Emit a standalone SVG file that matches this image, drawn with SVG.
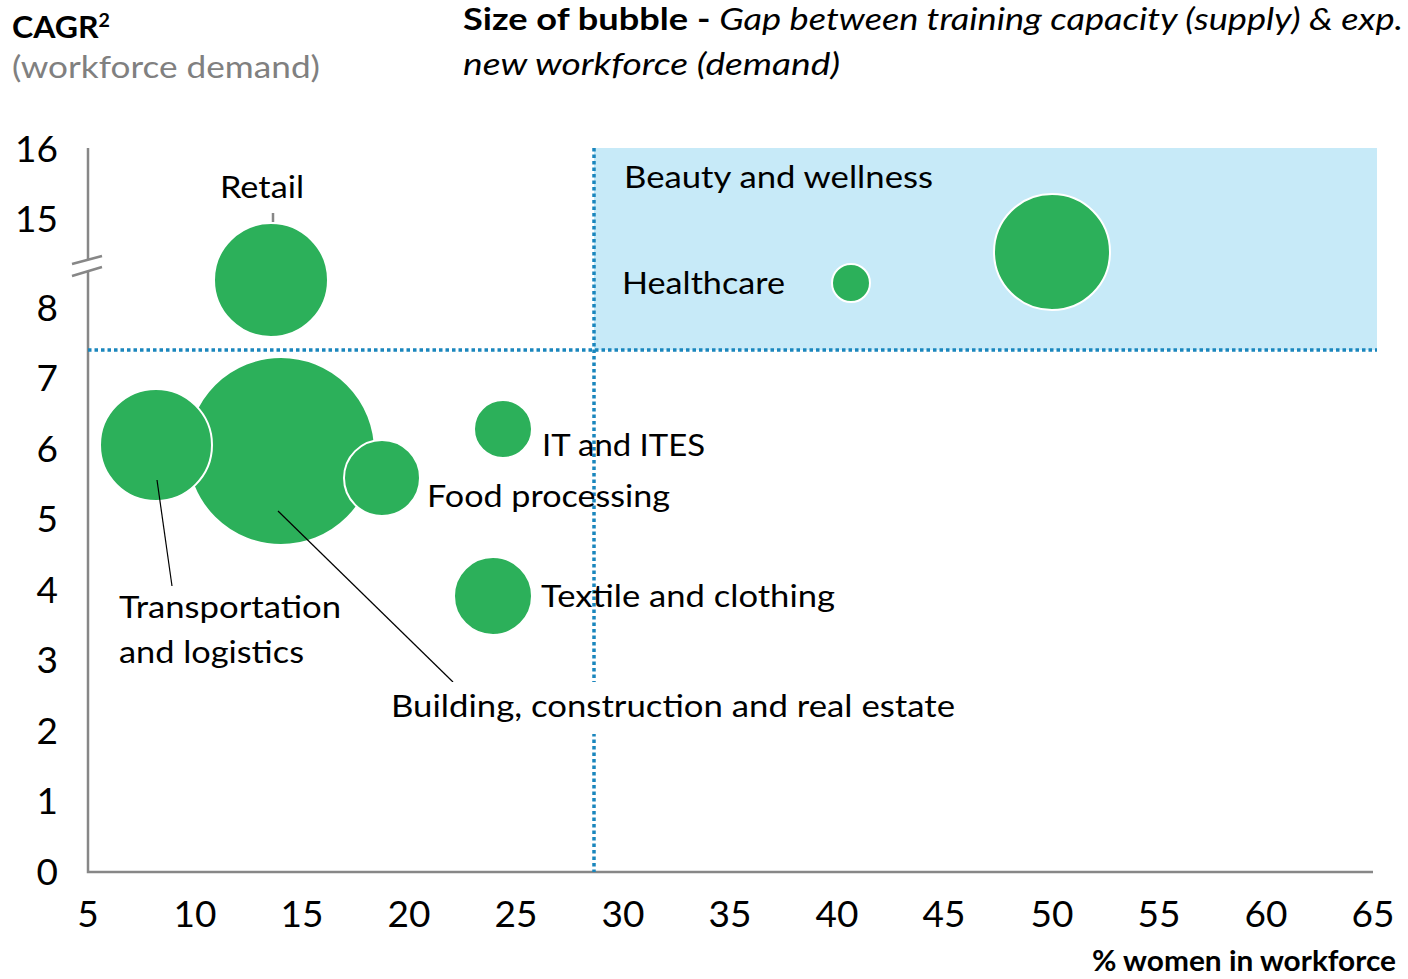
<svg xmlns="http://www.w3.org/2000/svg" width="1408" height="979" viewBox="0 0 1408 979">
<style>
text{font-family:Lato,"Open Sans","Liberation Sans",sans-serif;fill:#000}
.t{font-size:31px}
.ax{font-size:37px}
.yl{text-anchor:end}
.xl{text-anchor:middle}
.b{fill:#2cb05a;stroke:#fff;stroke-width:2}
.dot{stroke:#1a86bd;stroke-width:3.5;stroke-dasharray:3.5 3;fill:none}
.axis{stroke:#878787;stroke-width:2.5;fill:none}
.lead{stroke:#000;stroke-width:1.2;fill:none}
</style>
<rect width="1408" height="979" fill="#fff"/>
<g id="titles">
<text x="12" y="38" font-size="31" font-weight="bold" textLength="98" lengthAdjust="spacingAndGlyphs">CAGR<tspan font-size="19" dy="-11">2</tspan></text>
<text x="12" y="78" font-size="31" style="fill:#808080" textLength="308" lengthAdjust="spacingAndGlyphs">(workforce demand)</text>
<text x="463" y="30" font-size="31" textLength="940" lengthAdjust="spacingAndGlyphs"><tspan font-weight="bold">Size of bubble - </tspan><tspan font-style="italic">Gap between training capacity (supply) &amp; exp.</tspan></text>
<text x="463" y="75" font-size="31" font-style="italic" textLength="377" lengthAdjust="spacingAndGlyphs">new workforce (demand)</text>
</g>
<g id="zone">
<rect x="594" y="148" width="783" height="202" fill="#c7eaf8"/>
</g>
<g id="axes">
<path class="axis" d="M88 148V260M88 272V872H1373"/>
<path class="axis" d="M72 264L102 256M72 276L102 267" stroke-width="2"/>
<g class="ax yl">
<text x="58" y="162">16</text>
<text x="58" y="232">15</text>
<text x="58" y="321">8</text>
<text x="58" y="391">7</text>
<text x="58" y="462">6</text>
<text x="58" y="532">5</text>
<text x="58" y="603">4</text>
<text x="58" y="673">3</text>
<text x="58" y="744">2</text>
<text x="58" y="814">1</text>
<text x="58" y="885">0</text>
</g>
<g class="ax xl">
<text x="88" y="927">5</text>
<text x="195" y="927">10</text>
<text x="302" y="927">15</text>
<text x="409" y="927">20</text>
<text x="516" y="927">25</text>
<text x="623" y="927">30</text>
<text x="730" y="927">35</text>
<text x="837" y="927">40</text>
<text x="944" y="927">45</text>
<text x="1052" y="927">50</text>
<text x="1159" y="927">55</text>
<text x="1266" y="927">60</text>
<text x="1373" y="927">65</text>
</g>
<text x="1092" y="971" font-size="29" font-weight="bold" textLength="304" lengthAdjust="spacingAndGlyphs">% women in workforce</text>
</g>
<g id="thresholds">
<path class="dot" d="M88 350H1377"/>
<path class="dot" d="M594 148V872"/>
</g>
<g id="bubble-building"><circle class="b" cx="281" cy="451" r="94"/></g>
<g id="bubble-transport"><circle class="b" cx="156" cy="445" r="56"/></g>
<g id="bubble-food"><circle class="b" cx="382" cy="478" r="38"/></g>
<g id="bubble-retail"><circle class="b" cx="271" cy="280" r="57"/></g>
<g id="bubble-it"><circle class="b" cx="503" cy="429" r="29"/></g>
<g id="bubble-textile"><circle class="b" cx="493" cy="596" r="39"/></g>
<g id="bubble-healthcare"><circle class="b" cx="851" cy="283" r="19"/></g>
<g id="bubble-beauty"><circle class="b" cx="1052" cy="252" r="58"/></g>
<g id="connectors">
<path class="axis" d="M273 213V222" stroke-width="1.5"/>
<path class="lead" d="M157 480L172 586"/>
<path class="lead" d="M278 511L453 682"/>
</g>
<g id="labels" class="t">
<text x="220" y="198" textLength="84" lengthAdjust="spacingAndGlyphs">Retail</text>
<text x="624" y="188" textLength="309" lengthAdjust="spacingAndGlyphs">Beauty and wellness</text>
<text x="622" y="294" textLength="163" lengthAdjust="spacingAndGlyphs">Healthcare</text>
<text x="542" y="456" textLength="163" lengthAdjust="spacingAndGlyphs">IT and ITES</text>
<text x="427" y="507" textLength="243" lengthAdjust="spacingAndGlyphs">Food processing</text>
<text x="541" y="607" textLength="294" lengthAdjust="spacingAndGlyphs">Textile and clothing</text>
<text x="119" y="618" textLength="222" lengthAdjust="spacingAndGlyphs">Transportation</text>
<text x="119" y="663" textLength="185" lengthAdjust="spacingAndGlyphs">and logistics</text>
<rect x="388" y="682" width="570" height="52" fill="#fff"/>
<text x="391" y="717" textLength="564" lengthAdjust="spacingAndGlyphs">Building, construction and real estate</text>
</g>
</svg>
